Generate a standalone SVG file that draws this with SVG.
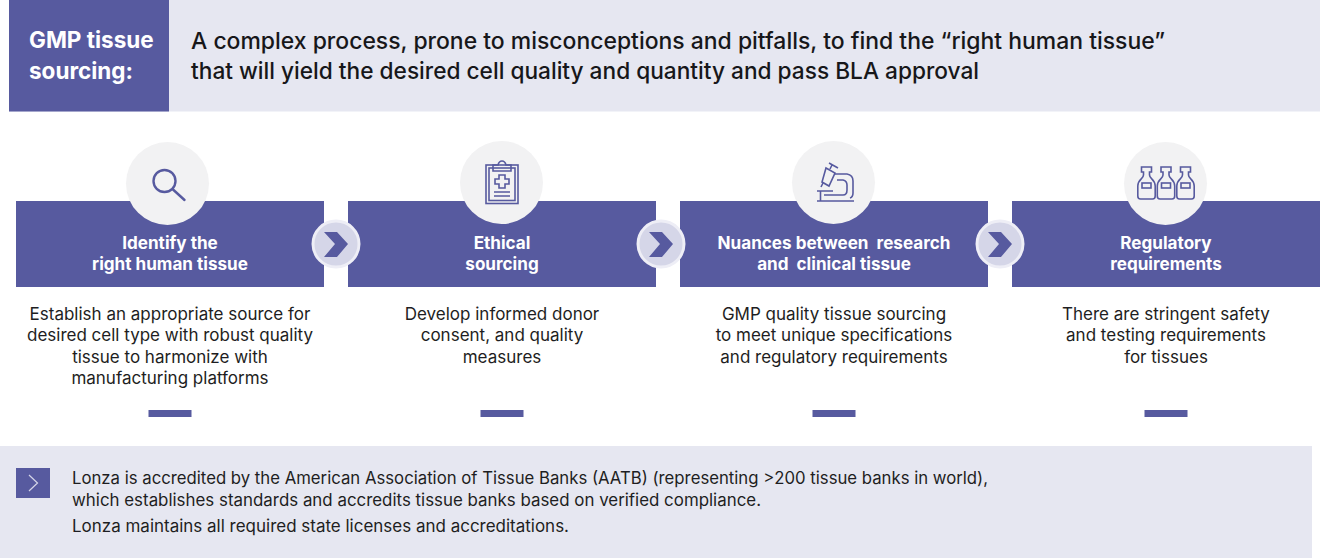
<svg xmlns="http://www.w3.org/2000/svg" width="1320" height="558" viewBox="0 0 1320 558">
<style>
text{font-family:Inter,"Noto Sans",sans-serif}
.hd{font-size:22.8px;font-weight:500;fill:#17171a}
.ttl{font-size:22.5px;font-weight:700;fill:#fff}
.st{font-size:17.1px;font-weight:700;fill:#fff;text-anchor:middle}
.bd{font-size:17px;fill:#1e1e22;text-anchor:middle}
.ft{font-size:16.8px;fill:#1e1e22}
.box{fill:#575a9f}
.circ{fill:#f2f2f3}
.dash{fill:#575a9f}
.ic{fill:none;stroke:#575a9f;stroke-width:2.4}
.ic1{fill:none;stroke:#575a9f;stroke-width:1.6}
.arrowc{fill:#d5d6e8;stroke:#eeeef6;stroke-width:3}
.chev{fill:#575a9f}
</style>
<defs>
<path id="chevron" class="chev" d="M-12-12H1L12 0 1 13H-12L-1 0Z"/>
<g id="bottle" class="ic1">
<path d="M-5-22H5V-17H3V-14C3-10 8.700-10 8.700-3V7Q8.700 10 6 10H-6Q-8.700 10-8.700 7V-3C-8.700-10-3-10-3-14V-17H-5Z"/>
<rect x="-4.500" y="-6" width="9" height="5"/>
</g>
</defs>
<g id="header">
<rect x="9" y="0" width="1311" height="111.500" fill="#e6e7f1"/>
<rect x="9" y="0" width="160" height="111.500" class="box"/>
<text class="ttl" x="29" y="48">GMP tissue</text>
<text class="ttl" x="29" y="79">sourcing:</text>
<text class="hd" x="191" y="49" textLength="974" lengthAdjust="spacingAndGlyphs">A complex process, prone to misconceptions and pitfalls, to find the “right human tissue”</text>
<text class="hd" x="191" y="78.500" textLength="788" lengthAdjust="spacingAndGlyphs">that will yield the desired cell quality and quantity and pass BLA approval</text>
</g>
<g id="step1">
<rect x="16" y="201" width="308" height="86" class="box"/>
<circle cx="167.500" cy="183.500" r="41.500" class="circ"/>
<g class="ic"><circle cx="164.500" cy="181" r="11"/><path d="M173 189.500L184.500 200" stroke-linecap="round"/></g>
<text class="st" x="170" y="248.500">Identify the</text>
<text class="st" x="170" y="269.500">right human tissue</text>
<text class="bd" x="170" y="319.500">Establish an appropriate source for</text>
<text class="bd" x="170" y="340.500">desired cell type with robust quality</text>
<text class="bd" x="170" y="362.500">tissue to harmonize with</text>
<text class="bd" x="170" y="383.500">manufacturing platforms</text>
<rect x="148.500" y="410" width="43" height="7" class="dash"/>
</g>
<g id="step2">
<rect x="348" y="201" width="308" height="86" class="box"/>
<circle cx="501.500" cy="182.500" r="41.500" class="circ"/>
<g class="ic1">
<rect x="486" y="165" width="32" height="38.500"/><rect x="489" y="168" width="26" height="32.500"/>
<path d="M493 171V165H498Q499 161 502 161T506 165H511V171Z"/>
<path d="M499 175H505V179H509V184H505V188H499V184H495V179H499Z"/>
<path d="M494 192H510M494 196H510"/>
</g>
<text class="st" x="502" y="248.500">Ethical</text>
<text class="st" x="502" y="269.500">sourcing</text>
<text class="bd" x="502" y="319.500">Develop informed donor</text>
<text class="bd" x="502" y="340.500">consent, and quality</text>
<text class="bd" x="502" y="362.500">measures</text>
<rect x="480.500" y="410" width="43" height="7" class="dash"/>
</g>
<g id="step3">
<rect x="680" y="201" width="308" height="86" class="box"/>
<circle cx="833.500" cy="182.500" r="41.500" class="circ"/>
<g class="ic1">
<path d="M817 201H854M820.500 201V191M817 191H833"/>
<path d="M835 174H847Q853 175 853 181V193Q853 197 850 198"/>
<path d="M837 180H843Q847 181 847 185V190Q847 195 843 195H824"/>
<path d="M826 168L835 173 829 186 822 182Z"/>
<path d="M829 163L838 168M832 165L830 169M823 183L821 187"/>
</g>
<text class="st" x="834" y="248.500" xml:space="preserve">Nuances between  research</text>
<text class="st" x="834" y="269.500" xml:space="preserve">and  clinical tissue</text>
<text class="bd" x="834" y="319.500">GMP quality tissue sourcing</text>
<text class="bd" x="834" y="340.500">to meet unique specifications</text>
<text class="bd" x="834" y="362.500">and regulatory requirements</text>
<rect x="812.500" y="410" width="43" height="7" class="dash"/>
</g>
<g id="step4">
<rect x="1012" y="201" width="308" height="86" class="box"/>
<circle cx="1165.500" cy="183.500" r="41.500" class="circ"/>
<use href="#bottle" x="1146.500" y="189"/>
<use href="#bottle" x="1166" y="189"/>
<use href="#bottle" x="1185.500" y="189"/>
<text class="st" x="1166" y="248.500">Regulatory</text>
<text class="st" x="1166" y="269.500">requirements</text>
<text class="bd" x="1166" y="319.500">There are stringent safety</text>
<text class="bd" x="1166" y="340.500">and testing requirements</text>
<text class="bd" x="1166" y="362.500">for tissues</text>
<rect x="1144.500" y="410" width="43" height="7" class="dash"/>
</g>
<g id="connectors">
<g transform="translate(336 244)"><circle r="23" class="arrowc"/><use href="#chevron"/></g>
<g transform="translate(661 244)"><circle r="23" class="arrowc"/><use href="#chevron"/></g>
<g transform="translate(1000 244)"><circle r="23" class="arrowc"/><use href="#chevron"/></g>
</g>
<g id="footer">
<rect x="0" y="446" width="1312" height="112" fill="#e6e7f1"/>
<rect x="16" y="468" width="34" height="30" class="box"/>
<path d="M29 475L37.500 483 29 491" fill="none" stroke="#d5d6e8" stroke-width="1.200"/>
<text class="ft" x="72" y="483.500" textLength="916" lengthAdjust="spacingAndGlyphs">Lonza is accredited by the American Association of Tissue Banks (AATB) (representing &gt;200 tissue banks in world),</text>
<text class="ft" x="72" y="505.500" textLength="689" lengthAdjust="spacingAndGlyphs">which establishes standards and accredits tissue banks based on verified compliance.</text>
<text class="ft" x="72" y="531.500" textLength="497" lengthAdjust="spacingAndGlyphs">Lonza maintains all required state licenses and accreditations.</text>
</g>
</svg>
